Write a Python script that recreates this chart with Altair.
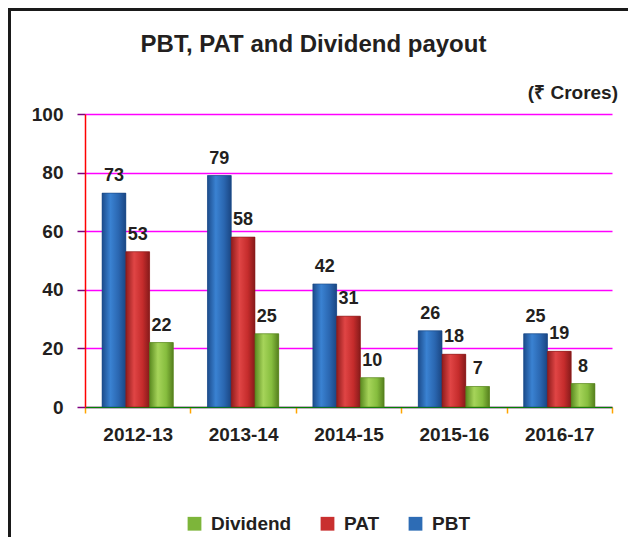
import altair as alt
import pandas as pd

years = ["2012-13", "2013-14", "2014-15", "2015-16", "2016-17"]
pbt = [73, 79, 42, 26, 25]
pat = [53, 58, 31, 18, 19]
dividend = [22, 25, 10, 7, 8]

series_order = ["PBT", "PAT", "Dividend"]
legend_order = ["Dividend", "PAT", "PBT"]
solid = {"Dividend": "#7db53a", "PAT": "#c9302f", "PBT": "#2d6cb5"}
grad = {
    "PBT": ["#1c4c8c", "#3a82d2", "#2a66b0", "#1a4683"],
    "PAT": ["#8f1c1c", "#e04545", "#c52c2c", "#861a1a"],
    "Dividend": ["#5a8a20", "#a6d45a", "#86bd3e", "#557f1d"],
}

rows = []
for i, y in enumerate(years):
    rows.append({"year": y, "series": "PBT", "value": pbt[i]})
    rows.append({"year": y, "series": "PAT", "value": pat[i]})
    rows.append({"year": y, "series": "Dividend", "value": dividend[i]})
df = pd.DataFrame(rows)

FONT = "Liberation Sans"
TXT = "#231f20"

x_enc = alt.X("year:N", sort=years, title=None,
              scale=alt.Scale(paddingInner=0, paddingOuter=0),
              axis=alt.Axis(labelAngle=0, tickBand="extent", tickSize=6,
                            labelPadding=12, labelFontSize=19, labelFont=FONT,
                            labelFontWeight="bold", labelColor=TXT,
                            domainColor="green", domainWidth=1.5,
                            tickColor="orange", tickWidth=1.5, grid=False))
y_enc = alt.Y("value:Q", title=None,
              scale=alt.Scale(domain=[0, 100]),
              axis=alt.Axis(values=[0, 20, 40, 60, 80, 100], tickSize=8, labelPadding=14,
                            labelFontSize=19, labelFont=FONT, labelFontWeight="bold",
                            labelColor=TXT, gridColor="#ff00ff", gridWidth=1.5,
                            domainColor="red", domainWidth=1.5,
                            tickColor="purple", tickWidth=1.5))
xo_enc = alt.XOffset("series:N", scale=alt.Scale(domain=series_order, paddingInner=0, paddingOuter=0.72))

base = alt.Chart(df)

legend_bars = base.mark_bar().encode(
    x=x_enc, y=y_enc, xOffset=xo_enc,
    color=alt.Color("series:N", title=None,
                    scale=alt.Scale(domain=legend_order, range=[solid[s] for s in legend_order]),
                    legend=alt.Legend(orient="none", direction="horizontal", legendX=100, legendY=400,
                                      symbolType="square", symbolSize=190, symbolStrokeWidth=0,
                                      labelFontSize=19, labelFont=FONT, labelFontWeight="bold",
                                      labelColor=TXT, labelOffset=7, columnPadding=26)),
)

layers = [legend_bars]
for s in series_order:
    c = grad[s]
    g = alt.Gradient(gradient="linear", x1=0, x2=1, y1=0, y2=0,
                     stops=[alt.GradientStop(offset=0, color=c[0]),
                            alt.GradientStop(offset=0.35, color=c[1]),
                            alt.GradientStop(offset=0.7, color=c[2]),
                            alt.GradientStop(offset=1, color=c[3])])
    layers.append(
        base.transform_filter(alt.datum.series == s)
        .mark_bar(color=g, stroke=c[3], strokeWidth=0.6)
        .encode(x=x_enc, y=y_enc, xOffset=xo_enc)
    )

labels = base.mark_text(baseline="bottom", dy=-8, font=FONT, fontWeight="bold",
                        fontSize=18, color=TXT).encode(
    x=x_enc, y=y_enc, xOffset=xo_enc, text="value:Q")
layers.append(labels)

one = alt.Data(values=[{}])
title_txt = alt.Chart(one).mark_text(text="PBT, PAT and Dividend payout", font=FONT,
                                     fontWeight="bold", fontSize=24, color=TXT,
                                     align="center", baseline="alphabetic").encode(
    x=alt.value(228.5), y=alt.value(-62))
unit_txt = alt.Chart(one).mark_text(text="(₹ Crores)", font=FONT, fontWeight="bold",
                                    fontSize=19, color=TXT, align="right",
                                    baseline="alphabetic").encode(
    x=alt.value(533), y=alt.value(-15))
frame_left = alt.Chart(one).mark_rule(color="#1a1a1a", strokeWidth=3).encode(
    x=alt.value(-75.5), y=alt.value(-106), y2=alt.value(423))
frame_top = alt.Chart(one).mark_rule(color="#1a1a1a", strokeWidth=3).encode(
    x=alt.value(-77), x2=alt.value(543), y=alt.value(-104.5))
layers += [title_txt, unit_txt, frame_left, frame_top]

chart = alt.layer(*layers).properties(
    width=527, height=293,
    background="white",
    autosize=alt.AutoSizeParams(type="none"),
    padding={"left": 77, "top": 106, "right": 16, "bottom": 130},
).configure_view(stroke=None)

chart.save("out.html", embed_options={"renderer": "svg", "actions": False})
